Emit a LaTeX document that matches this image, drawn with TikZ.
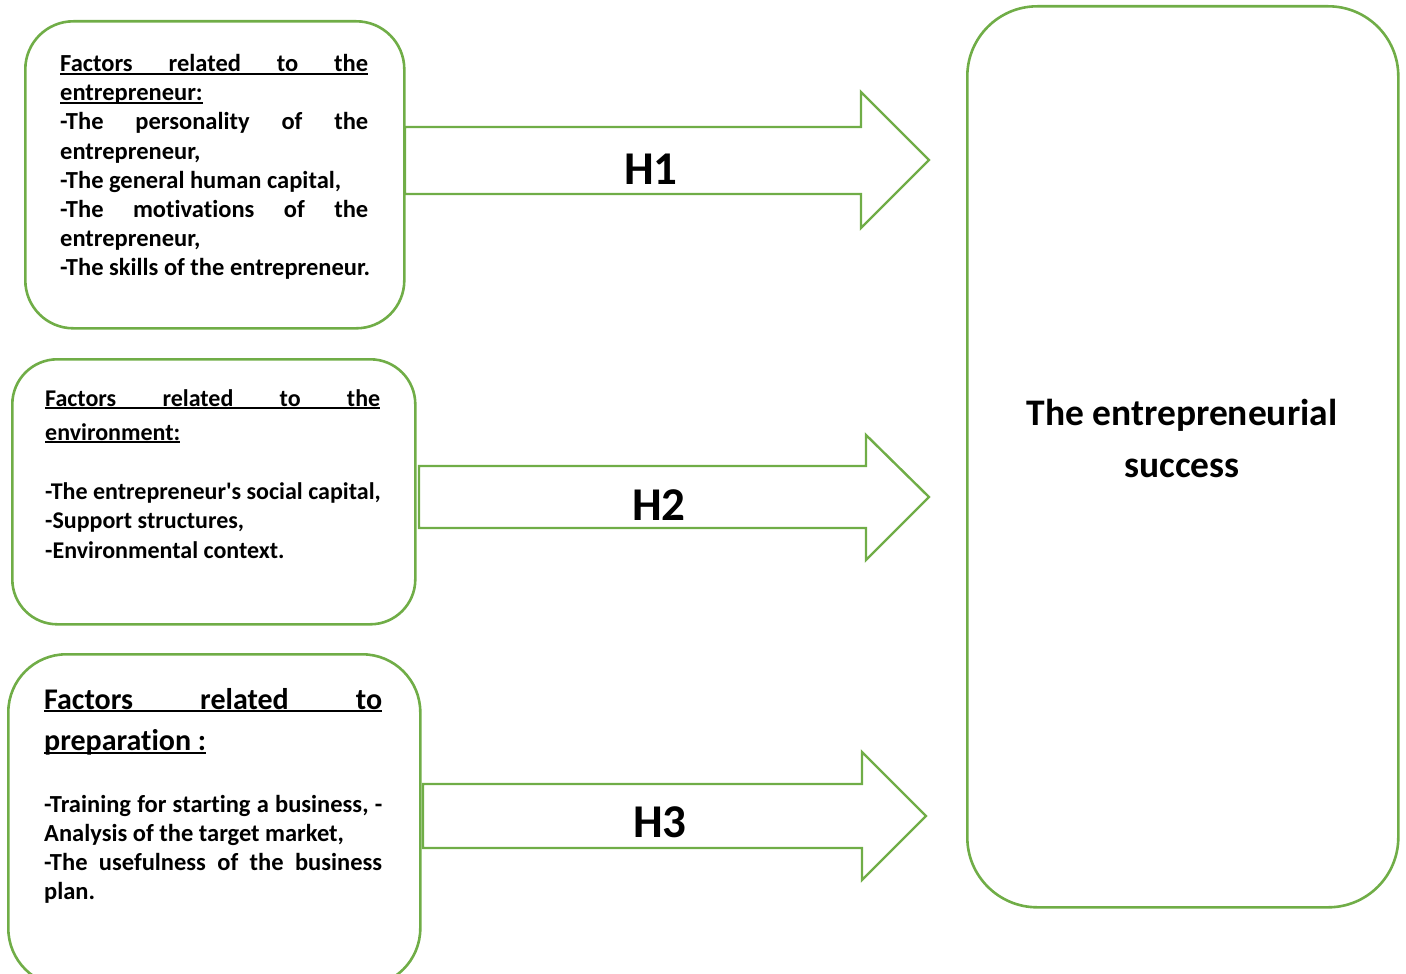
\documentclass[tikz,border=0pt]{standalone}
\usepackage{fontspec}
\setmainfont{Carlito}[Ligatures={TeXOff,CommonOff}]
\definecolor{grn}{HTML}{70AD47}
\newcommand\jline[1]{\hbox to\hsize{#1}}
\newcommand\pline[1]{\hbox{#1}}
\newcommand\uline[1]{\hbox{\setbox0\hbox{#1}\rlap{\rule[-3pt]{\wd0}{1.6pt}}\box0}}
\begin{document}
\begin{tikzpicture}[x=1pt,y=-1pt,
  box/.style={draw=grn, line width=2.6pt, rounded corners=#1, inner sep=0pt, anchor=north west},
  blockarrow/.style={draw=grn, line width=2.4pt, line join=miter},
  txt/.style={anchor=base west, inner sep=0pt, font=\bfseries},
  hlabel/.style={anchor=base, inner sep=0pt, font=\bfseries\fontsize{47}{50}\selectfont}]
\useasboundingbox (0,0) rectangle (1406,974);
\begin{scope}
\clip (0,0) rectangle (1406,974);
% boxes
\node[box=48, minimum width=379pt, minimum height=307pt] (b1) at (24,20) {};
\node[box=45, minimum width=403pt, minimum height=265pt] (b2) at (11,358) {};
\node[box=58, minimum width=412pt, minimum height=332pt] (b3) at (7,653) {};
\node[box=70, minimum width=431pt, minimum height=901pt] (goal) at (966,5) {};
\end{scope}
% block arrows
\draw[blockarrow] (405,127) -- (861,127) -- (861,92) -- (929,160) -- (861,228) -- (861,194) -- (405,194) -- cycle;
\draw[blockarrow] (419,466) -- (866,466) -- (866,435) -- (929,497) -- (866,560) -- (866,528) -- (419,528) -- cycle;
\draw[blockarrow] (423,784) -- (862,784) -- (862,752) -- (926,816) -- (862,880) -- (862,848) -- (423,848) -- cycle;
\node[hlabel] (h1) at (651,184) {H1};
\node[hlabel] (h2) at (659,520) {H2};
\node[hlabel] (h3) at (660,837) {H3};
% box 1 text
\node[txt] (t1) at (60,71.5) {\vtop{\hsize=308pt\fontsize{24.5}{29.2}\selectfont
  \uline{\jline{Factors\hfill related\hfill to\hfill the}}
  \uline{\pline{entrepreneur:}}
  \jline{-The\hfill personality\hfill of\hfill the}
  \pline{entrepreneur,}
  \pline{-The general human capital,}
  \jline{-The\hfill motivations\hfill of\hfill the}
  \pline{entrepreneur,}
  \pline{-The skills of the entrepreneur.}}};
% box 2 text
\node[txt] (t2h) at (45,406) {\vtop{\hsize=335pt\fontsize{24}{34}\selectfont
  \uline{\jline{Factors\hfill related\hfill to\hfill the}}
  \uline{\pline{environment:}}}};
\node[txt] (t2b) at (45,499.5) {\vtop{\hsize=335pt\fontsize{24}{29.3}\selectfont
  \pline{-The entrepreneur's social capital,}
  \pline{-Support structures,}
  \pline{-Environmental context.}}};
% box 3 text
\node[txt] (t3h) at (44,709) {\vtop{\hsize=338pt\fontsize{30}{41.5}\selectfont
  \uline{\jline{Factors\hfill related\hfill to}}
  \uline{\pline{preparation :}}}};
\node[txt] (t3b) at (44,812) {\vtop{\hsize=338pt\fontsize{24.5}{29}\selectfont
  \jline{-Training\hfill for\hfill starting\hfill a\hfill business,\hfill -}
  \pline{Analysis of the target market,}
  \jline{-The\hfill usefulness\hfill of\hfill the\hfill business}
  \pline{plan.}}};
% goal text
\node[anchor=base, inner sep=0pt, font=\bfseries] (gt) at (1182,425.5) {\vtop{\hsize=400pt\fontsize{37.5}{51.5}\selectfont
  \jline{\hfil The entrepreneurial\hfil}
  \jline{\hfil success\hfil}}};
\end{tikzpicture}
\end{document}
